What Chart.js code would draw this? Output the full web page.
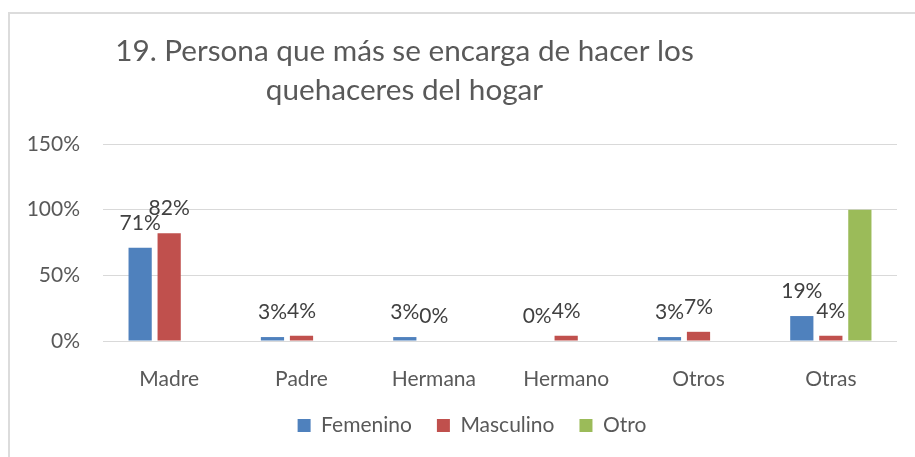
<!DOCTYPE html>
<html>
<head>
<meta charset="utf-8">
<script src="https://cdn.jsdelivr.net/npm/chart.js@4/dist/chart.umd.min.js"></script>
<style>
  html,body{margin:0;padding:0;background:#fff;overflow:hidden;}
  #frame{position:absolute;left:8px;top:12px;width:1000px;height:1000px;
         border-left:2px solid #dcdcdc;border-top:2px solid #dcdcdc;}
  #wrap{position:absolute;left:0;top:0;width:915px;height:457px;}
</style>
</head>
<body>
<div id="frame"></div>
<div id="wrap"><canvas id="chart" width="915" height="457"></canvas></div>
<script>
/* ---------- data ---------- */
const categories = ['Madre','Padre','Hermana','Hermano','Otros','Otras'];
const femenino   = [71, 3, 3, 0, 3, 19];
const masculino  = [82, 4, 0, 4, 7, 4];
const otro       = [0, 0, 0, 0, 0, 100];
const yTicks     = [0, 50, 100, 150];
const titleLines = ['19. Persona que más se encarga de hacer los','quehaceres del hogar'];

/* ---------- palette ---------- */
const palette = { blue:'#4f81bd', red:'#c0504d', green:'#9bbb59',
                  grid:'#d9d9d9', tick:'#595959', label:'#404040' };
const FONT = 'Lato';

/* title drawn off-centre, like the original */
const titlePlugin = {
  id:'offTitle',
  afterDraw(chart){
    const c = chart.ctx;
    c.save();
    c.font = `29.7px ${FONT}`;
    c.fillStyle = palette.tick;
    c.textAlign = 'center';
    c.textBaseline = 'alphabetic';
    c.fillText(titleLines[0], 404.5, 61);
    c.fillText(titleLines[1], 404.5, 100);
    c.restore();
  }
};

/* legend sits a bit right of the plot centre in the original */
const legendShift = {
  id:'legendShift',
  afterLayout(chart){
    chart.legend.left += 23.5;
    chart.legend.right += 23.5;
  }
};

/* value labels over Femenino / Masculino bars */
const labelPlugin = {
  id:'barLabels',
  afterDatasetsDraw(chart){
    const c = chart.ctx;
    c.save();
    c.font = `21px ${FONT}`;
    c.fillStyle = palette.label;
    c.textAlign = 'center';
    c.textBaseline = 'alphabetic';
    [0,1].forEach(di=>{
      const meta = chart.getDatasetMeta(di);
      meta.data.forEach((bar,i)=>{
        const v = chart.data.datasets[di].data[i];
        c.fillText(v + '%', bar.x, bar.y - 18);
      });
    });
    c.restore();
  }
};

new Chart(document.getElementById('chart'),{
  type:'bar',
  data:{labels:categories,datasets:[
    {label:'Femenino', data:femenino, backgroundColor:palette.blue},
    {label:'Masculino',data:masculino,backgroundColor:palette.red},
    {label:'Otro',     data:otro,     backgroundColor:palette.green}
  ]},
  options:{
    responsive:false,animation:false,
    categoryPercentage:0.658, barPercentage:0.8,
    layout:{padding:{top:144,left:0,right:18,bottom:11}},
    scales:{
      y:{min:0,max:150,
         afterBuildTicks:s=>{ s.ticks = yTicks.map(v=>({value:v})); },
         afterFit:s=>{ s.width = 103; },
         ticks:{color:palette.tick,padding:23,font:{family:FONT,size:21},callback:v=>v+'%'},
         grid:{color:palette.grid,drawTicks:false},
         border:{display:false}},
      x:{afterFit:s=>{ s.height = 49; },
         ticks:{color:palette.tick,padding:18,font:{family:FONT,size:21}},
         grid:{display:false},
         border:{display:false}}
    },
    plugins:{
      title:{display:false},
      tooltip:{enabled:false},
      legend:{position:'bottom',
        labels:{color:palette.tick,boxWidth:13,boxHeight:13,padding:25,
                font:{family:FONT,size:21}}}
    }
  },
  plugins:[titlePlugin,labelPlugin,legendShift]
});
</script>
</body>
</html>
